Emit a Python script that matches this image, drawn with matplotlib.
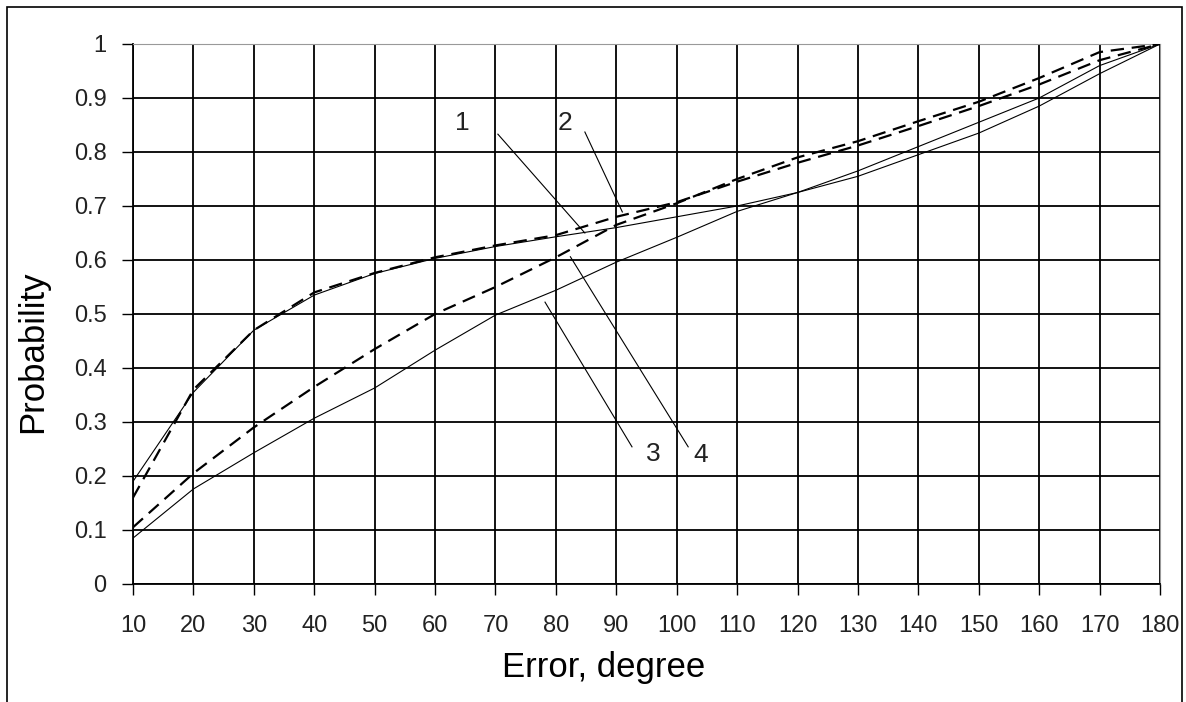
import matplotlib
matplotlib.use("Agg")
import matplotlib.pyplot as plt
from matplotlib.patches import Rectangle

plt.rcParams["font.family"] = ["Liberation Sans", "DejaVu Sans"]

# error, degree
errors = [10, 20, 30, 40, 50, 60, 70, 80, 90, 100, 110, 120, 130, 140, 150, 160, 170, 180]

# probability curves
curve1 = [0.19, 0.355, 0.47, 0.535, 0.575, 0.603, 0.625, 0.643, 0.66, 0.68, 0.70, 0.725,
          0.755, 0.795, 0.835, 0.885, 0.945, 1.0]
curve2 = [0.16, 0.36, 0.47, 0.54, 0.576, 0.605, 0.627, 0.646, 0.68, 0.707, 0.745, 0.78,
          0.812, 0.848, 0.885, 0.925, 0.97, 1.0]
curve3 = [0.085, 0.176, 0.243, 0.307, 0.363, 0.433, 0.498, 0.544, 0.596, 0.642, 0.69, 0.725,
          0.765, 0.81, 0.855, 0.90, 0.96, 1.0]
curve4 = [0.105, 0.205, 0.29, 0.365, 0.435, 0.50, 0.55, 0.605, 0.665, 0.705, 0.75, 0.79,
          0.82, 0.857, 0.893, 0.937, 0.985, 1.0]

y_ticks = [0, 0.1, 0.2, 0.3, 0.4, 0.5, 0.6, 0.7, 0.8, 0.9, 1]
y_tick_labels = ["0", "0.1", "0.2", "0.3", "0.4", "0.5", "0.6", "0.7", "0.8", "0.9", "1"]

# curve number labels: (text, text pos, leader start, leader end)
curve_labels = [
    ("1", (64.5, 0.853), (70.4, 0.833), (84.8, 0.65)),
    ("2", (81.5, 0.853), (84.8, 0.837), (91.0, 0.689)),
    ("3", (96.1, 0.240), (92.6, 0.254), (78.2, 0.522)),
    ("4", (104.0, 0.238), (101.9, 0.254), (82.4, 0.606)),
]

fig = plt.figure(figsize=(11.86, 7.02), dpi=100)
ax = fig.add_axes([133 / 1186, 1 - 584 / 702, (1160 - 133) / 1186, (584 - 44) / 702])

ax.plot(errors, curve1, color="black", lw=0.8, zorder=3)
ax.plot(errors, curve3, color="black", lw=0.8, zorder=3)
ax.plot(errors, curve2, color="black", lw=1.6, dashes=(6, 3.5), zorder=3)
ax.plot(errors, curve4, color="black", lw=1.6, dashes=(6, 3.5), zorder=3)

for txt, pos, p0, p1 in curve_labels:
    ax.text(pos[0], pos[1], txt, fontsize=19, ha="center", va="center", color="#222222")
    ax.plot([p0[0], p1[0]], [p0[1], p1[1]], color="black", lw=0.8, zorder=4)

ax.set_xlim(10, 180)
ax.set_ylim(0, 1)
ax.set_xticks(errors)
ax.set_xticklabels([str(e) for e in errors])
ax.set_yticks(y_ticks)
ax.set_yticklabels(y_tick_labels)
ax.grid(True, color="black", lw=1.3, zorder=1)
ax.set_axisbelow(True)

ax.tick_params(axis="x", direction="out", length=8, width=1, pad=14, labelsize=17, colors="black")
ax.tick_params(axis="y", direction="out", length=8, width=1, pad=11, labelsize=17, colors="black")
for lab in ax.get_xticklabels() + ax.get_yticklabels():
    lab.set_color("#222222")

ax.spines["left"].set_color("black")
ax.spines["bottom"].set_color("black")
ax.spines["left"].set_linewidth(1.3)
ax.spines["bottom"].set_linewidth(1.3)
ax.spines["top"].set_color("#999999")
ax.spines["right"].set_color("#999999")

fig.text(604 / 1186, 1 - 668 / 702, "Error, degree", fontsize=25, ha="center", va="center")
fig.text(33 / 1186, 1 - 352 / 702, "Probability", fontsize=25, rotation=90,
         ha="center", va="center")

# outer chart frame (bottom edge cut off in the original)
fig.add_artist(Rectangle((7 / 1186, -0.05), (1182 - 7) / 1186, 1.05 - 7 / 702,
                         transform=fig.transFigure, fill=False, edgecolor="black", lw=1.2))

fig.savefig("out.png", dpi=100)
